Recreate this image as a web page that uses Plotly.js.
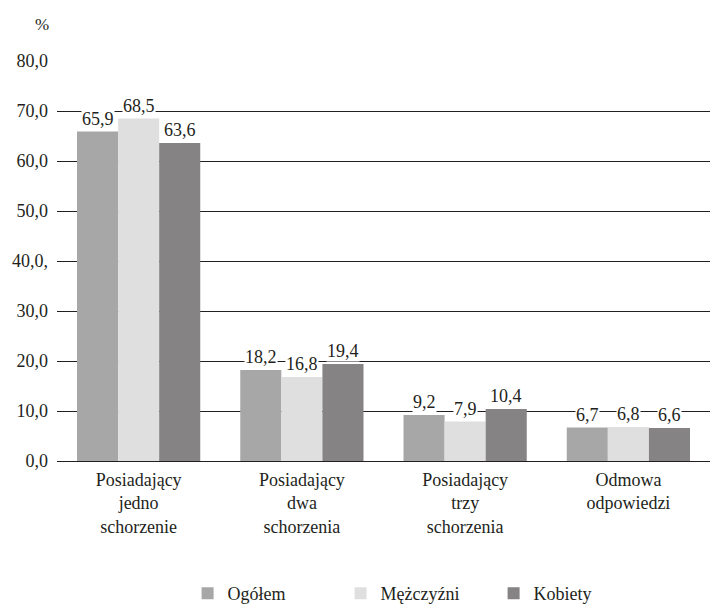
<!DOCTYPE html>
<html>
<head>
<meta charset="utf-8">
<script src="https://cdn.plot.ly/plotly-3.0.1.min.js"></script>
<style>html,body{margin:0;padding:0;background:#fff;font-family:'Liberation Serif';}#chart{width:711px;height:604px;}</style>
</head>
<body>
<div id="chart"></div>
<script>
const categories = ["Posiadający<br>jedno<br>schorzenie", "Posiadający<br>dwa<br>schorzenia", "Posiadający<br>trzy<br>schorzenia", "Odmowa<br>odpowiedzi"];
const seriesNames = ["Ogółem", "Mężczyźni", "Kobiety"];
const ogolem = [65.9, 18.2, 9.2, 6.7];
const mezczyzni = [68.5, 16.8, 7.9, 6.8];
const kobiety = [63.6, 19.4, 10.4, 6.6];
const tickVals = [0, 10, 20, 30, 40, 50, 60, 70, 80];
const tickText = ["0,0", "10,0", "20,0", "30,0", "40,0,", "50,0", "60,0", "70,0", "80,0"];
const colors = ["#a7a7a7", "#dfdfdf", "#858383"];

const FONT = "Liberation Serif";
const series = [ogolem, mezczyzni, kobiety];
const bargap = 0.245;
const xIdx = categories.map((c, i) => i);

const traces = series.map((vals, j) => ({
  type: "bar",
  name: seriesNames[j],
  x: xIdx,
  y: vals,
  marker: {color: colors[j], line: {width: 0}},
  hoverinfo: "skip"
}));

const fmt = v => v.toFixed(1).replace(".", ",");
const bw = (1 - bargap) / 3;
const annotations = [];
series.forEach((vals, j) => {
  vals.forEach((v, i) => {
    annotations.push({
      x: i + (j - 1) * bw, y: v, xref: "x", yref: "y",
      text: fmt(v), showarrow: false, yanchor: "bottom", yshift: 2,
      bgcolor: "#ffffff", borderpad: 0,
      font: {family: FONT, size: 18, color: "#231f20"}
    });
  });
});
annotations.push({
  x: -0.037, y: 1.09, xref: "paper", yref: "paper", text: "%", showarrow: false,
  yanchor: "middle",
  font: {family: FONT, size: 17, color: "#231f20"}
});

const layout = {
  width: 711, height: 604,
  margin: {l: 57, r: 1, t: 61, b: 143, autoexpand: false},
  paper_bgcolor: "#ffffff", plot_bgcolor: "#ffffff",
  font: {family: FONT, size: 18, color: "#231f20"},
  barmode: "group", bargap: bargap, bargroupgap: 0,
  showlegend: true,
  legend: {orientation: "h", x: 0.2, xanchor: "left", y: -0.285, yanchor: "top",
           font: {family: FONT, size: 18, color: "#231f20"}, entrywidth: 108, itemclick: false},
  xaxis: {
    type: "linear", tickmode: "array", tickvals: xIdx, ticktext: categories,
    range: [-0.5, 3.5], showgrid: false, zeroline: false, showline: false,
    ticks: "", ticklabelstandoff: 6, fixedrange: true
  },
  yaxis: {
    range: [0, 80], tickmode: "array", tickvals: tickVals, ticktext: tickText,
    showgrid: true, gridcolor: "#231f20", gridwidth: 1.2,
    zeroline: true, zerolinecolor: "#231f20", zerolinewidth: 1.2,
    showline: false, ticks: "", ticklabelstandoff: 8, fixedrange: true
  },
  annotations: annotations
};

Plotly.newPlot("chart", traces, layout, {displayModeBar: false}).then(function (gd) {
  gd.querySelectorAll("text").forEach(function (t) {
    t.style.fontFamily = "'Liberation Serif', serif";
  });
});
</script>
</body>
</html>
